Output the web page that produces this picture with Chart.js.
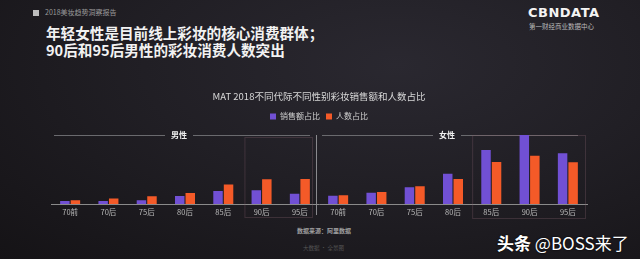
<!DOCTYPE html>
<html>
<head>
<meta charset="utf-8">
<script src="https://cdn.jsdelivr.net/npm/chart.js@4"></script>
<style>
  html, body { margin: 0; padding: 0; }
  body {
    width: 640px; height: 259px; overflow: hidden; position: relative;
    background: radial-gradient(ellipse at 62% 25%, #2a2830 0%, #211f25 45%, #151316 100%);
    font-family: "Noto Sans CJK SC", "Noto Sans", sans-serif;
  }
  .txt { position: absolute; white-space: nowrap; }
  #chartWrap { position: absolute; left: 0; top: 0; width: 640px; height: 259px; }
</style>
</head>
<body>
<div class="txt" style="left:33px;top:10px;width:6px;height:6px;background:#bdbdbd;"></div>
<div class="txt" style="left:45px;top:7px;font-size:7px;color:#9a9a9a;">2018美妆趋势洞察报告</div>
<div class="txt" style="left:46px;top:24px;font-size:14.6px;line-height:17px;font-weight:bold;color:#f2f2f2;">年轻女性是目前线上彩妆的核心消费群体；<br>90后和95后男性的彩妆消费人数突出</div>
<div class="txt" style="left:528px;top:5px;font-size:13px;font-weight:bold;letter-spacing:0.5px;color:#f4f4f4;font-family:'DejaVu Sans';">CBNDATA</div>
<div class="txt" style="left:529px;top:21px;font-size:6.5px;color:#bbbbbb;">第一财经商业数据中心</div>
<div class="txt" style="left:297px;top:226px;font-size:6px;color:#a0a0a0;font-weight:bold;">数据来源：阿里数据</div>
<div class="txt" style="left:303px;top:244px;font-size:5.5px;color:#555;">大数据 · 全景图</div>
<div class="txt" style="left:497px;top:230px;font-size:17px;color:#ffffff;text-shadow:0 0 2px #000;"><b>头条</b> @BOSS来了</div>
<div id="chartWrap"><canvas id="chartContainer" width="640" height="259"></canvas></div>
<script>
var categories = ['70前', '70后', '75后', '80后', '85后', '90后', '95后',
                  '70前', '70后', '75后', '80后', '85后', '90后', '95后'];
var groups = ['男性', '女性'];
// 前7个为男性，后7个为女性 (%)
var salesShare = [1.0, 1.0, 1.3, 2.7, 4.4, 4.7, 3.5,
                  2.8, 3.8, 5.7, 10.3, 18.3, 23.4, 17.2];
var peopleShare = [1.3, 1.9, 2.6, 3.7, 6.6, 8.4, 8.5,
                   3.0, 4.1, 6.0, 8.5, 14.3, 16.4, 14.2];
var seriesNames = ['销售额占比', '人数占比'];

// 分组标题线、分隔线、重点框
var decorPlugin = {
  id: 'decor',
  beforeDatasetsDraw: function (chart) {
    var ctx = chart.ctx;
    var x = chart.scales.x;
    var catW = x.getPixelForValue(1) - x.getPixelForValue(0);
    var lineY = 135;
    ctx.save();
    for (var g = 0; g < 2; g++) {
      var left = x.getPixelForValue(g * 7) - catW / 2;
      var right = x.getPixelForValue(g * 7 + 6) + catW / 2;
      var tx = left + 128;
      ctx.strokeStyle = '#6a6a6e';
      ctx.lineWidth = 1;
      ctx.beginPath();
      ctx.moveTo(left + 3, lineY + 0.5); ctx.lineTo(tx - 14, lineY + 0.5);
      ctx.moveTo(tx + 14, lineY + 0.5); ctx.lineTo(right - 9, lineY + 0.5);
      ctx.stroke();
      ctx.fillStyle = '#f0f0f0';
      ctx.font = 'bold 8px "Noto Sans CJK SC"';
      ctx.textAlign = 'center';
      ctx.textBaseline = 'middle';
      ctx.fillText(groups[g], tx, lineY);
    }
    // 男女分隔线
    var midX = x.getPixelForValue(7) - catW / 2 - 3;
    ctx.strokeStyle = '#8a8a8e';
    ctx.beginPath();
    ctx.moveTo(midX + 0.5, 135); ctx.lineTo(midX + 0.5, 215);
    ctx.stroke();
    // 90后/95后框
    ctx.strokeStyle = 'rgba(120,90,100,0.35)';
    var b1 = x.getPixelForValue(5) - catW / 2 + 2;
    ctx.strokeRect(b1 + 0.5, 137.5, x.getPixelForValue(6) + catW / 2 - 7 - b1, 80);
    var b2 = x.getPixelForValue(11) - catW / 2;
    ctx.strokeRect(b2 + 0.5, 135.5, x.getPixelForValue(13) + catW / 2 - 2 - b2, 83);
    ctx.restore();
  }
};

window.onload = function () {
  var myChart = document.getElementById('chartContainer').getContext('2d');
  var popChart = new Chart(myChart, {
    type: 'bar',
    data: {
      labels: categories,
      datasets: [{
        label: seriesNames[0],
        data: salesShare,
        backgroundColor: '#7150d4'
      }, {
        label: seriesNames[1],
        data: peopleShare,
        backgroundColor: '#f45a28'
      }]
    },
    plugins: [decorPlugin],
    options: {
      responsive: false,
      animation: false,
      layout: { padding: { top: 90, left: 51, right: 53, bottom: 38 } },
      datasets: { bar: { categoryPercentage: 0.55, barPercentage: 0.9 } },
      plugins: {
        title: {
          display: true,
          text: 'MAT 2018不同代际不同性别彩妆销售额和人数占比',
          color: '#d8d8d8',
          font: { size: 9.5, family: '"Noto Sans CJK SC"', weight: 'normal' },
          padding: { top: 1, bottom: 4 }
        },
        legend: {
          display: true,
          labels: {
            color: '#d0d0d0',
            boxWidth: 6, boxHeight: 6,
            padding: 6,
            font: { size: 8, family: '"Noto Sans CJK SC"' }
          }
        },
        tooltip: { enabled: false }
      },
      scales: {
        x: {
          grid: { display: false, drawTicks: false },
          border: { display: true, color: '#8a8a8a' },
          ticks: {
            color: '#b8b8b8', padding: 4, autoSkip: false, maxRotation: 0,
            font: { size: 7.5, family: '"Noto Sans CJK SC"' }
          }
        },
        y: {
          display: false,
          min: 0,
          max: 25
        }
      }
    }
  });
};
</script>
</body>
</html>
